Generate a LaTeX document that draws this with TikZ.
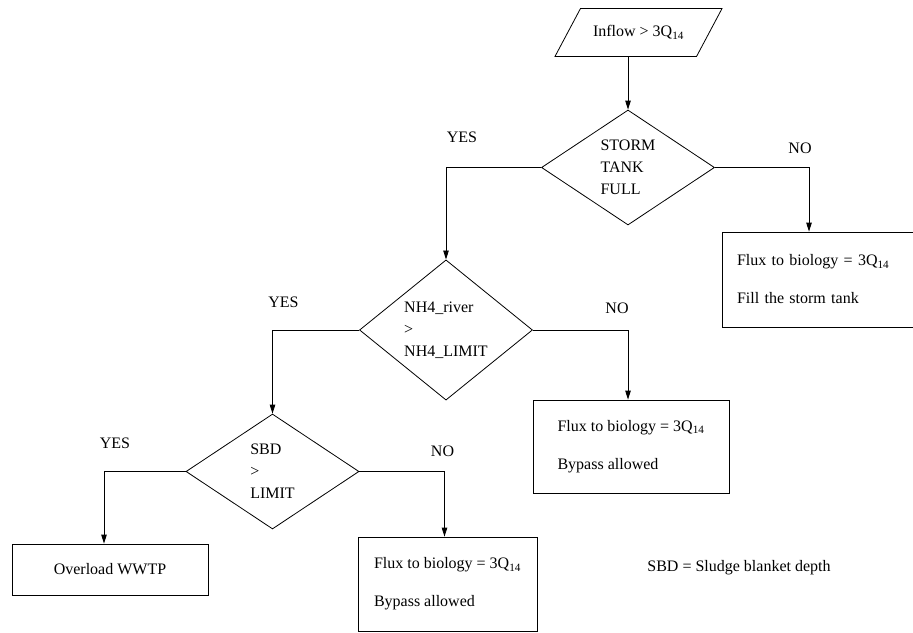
\documentclass[tikz,border=0pt]{standalone}
\usepackage{fontspec}
\setmainfont{Liberation Serif}
\usepackage{tikz}
\usetikzlibrary{ % tikz packages
    positioning,shapes.geometric,
    arrows.meta
}
\tikzset{every node/.style={
    font=\fontsize{16}{22}\selectfont
}}
\tikzset{decision/.style={
    draw, diamond, inner sep=0pt, align=left,
    minimum width=173pt, minimum height=115pt
}}
\tikzset{block/.style={
    draw, rectangle, inner sep=0pt, align=left,
    minimum width=196pt, minimum height=93pt
}}
\tikzset{io/.style={
    draw, trapezium, trapezium left angle=62, trapezium right angle=118,
    trapezium stretches body=true, inner xsep=0pt, inner ysep=17pt,
    minimum width=167pt
}}
\tikzset{lbl/.style={inner sep=0pt}}
\tikzset{>={Triangle[length=9pt,width=5.5pt]}}

\begin{document}
\begin{tikzpicture}[x=1pt,y=1pt,on grid,line width=0.8pt]
            \useasboundingbox (0,0) rectangle (913,-632);
            \clip (0,0) rectangle (913,-632);

            \node[io] (inflow) at (638.5,-32.5) {Inflow > 3Q\textsubscript{14}};
            \node[decision] (tank) [below left=135pt and 10.5pt of inflow] {STORM\\TANK\\FULL};
            \node[decision, minimum height=136pt] (river) [below left=162.5pt and 182pt of tank] {NH4\_river\\>\\NH4\_LIMIT};
            \node[decision] (sbd) [below left=141.5pt and 173.5pt of river] {SBD\\>\\LIMIT};

            \node[block, minimum width=230pt, text width=200pt, minimum height=95pt] (fill) [below right=112pt and 209pt of tank]
                {Flux to biology = 3Q\textsubscript{14}\\[16pt]Fill the storm tank};
            \node[block] (bypassA) [below right=116.5pt and 185pt of river]
                {Flux to biology = 3Q\textsubscript{14}\\[16pt]Bypass allowed};
            \node[block, minimum height=51pt] (overload) [below left=98pt and 162.5pt of sbd] {Overload WWTP};
            \node[block, minimum width=179pt, minimum height=94pt] (bypassB) [below right=112.5pt and 175pt of sbd]
                {Flux to biology = 3Q\textsubscript{14}\\[16pt]Bypass allowed};
            \node (note) [above right=16pt and 291.5pt of bypassB] {SBD = Sludge blanket depth};

            \draw[->] (inflow.south -| tank.north) -- (tank.north);
            \draw[->] (tank.west) -| node[lbl, pos=0.5, xshift=16pt, yshift=30pt] (yesA) {YES} (river.north);
            \draw[->] (tank.east) -| node[lbl, pos=0.5, xshift=-9pt, yshift=19pt] (noA) {NO} ([xshift=-28pt]fill.north);
            \draw[->] (river.west) -| node[lbl, pos=0.5, xshift=11pt, yshift=28pt] (yesB) {YES} (sbd.north);
            \draw[->] (river.east) -| node[lbl, pos=0.5, xshift=-11pt, yshift=22pt] (noB) {NO} ([xshift=-3pt]bypassA.north);
            \draw[->] (sbd.west) -| node[lbl, pos=0.5, xshift=11pt, yshift=28pt] (yesC) {YES} ([xshift=-6pt]overload.north);
            \draw[->] (sbd.east) -| node[lbl, pos=0.5, xshift=-2pt, yshift=20pt] (noC) {NO} ([xshift=-3pt]bypassB.north);
        \end{tikzpicture}
\end{document}
